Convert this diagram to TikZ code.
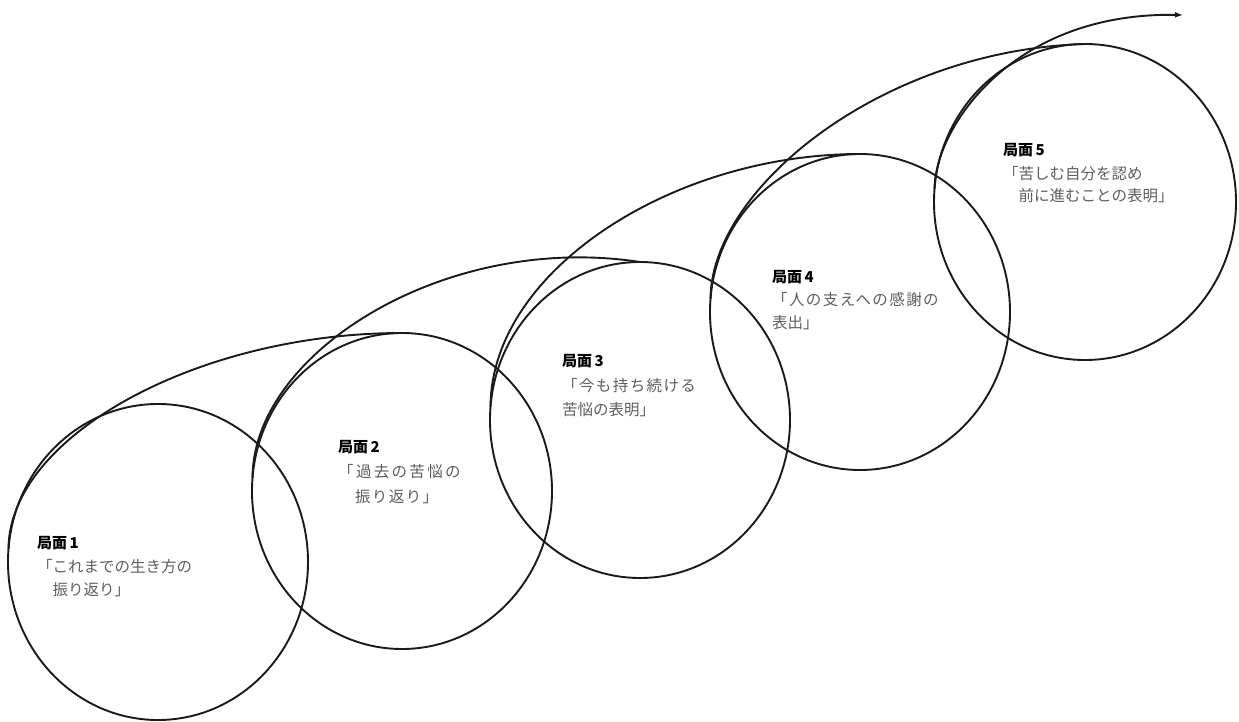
\documentclass[tikz,border=0pt]{standalone}
\usepackage{fontspec}
\newfontfamily\jp{Noto Sans CJK JP}
\newfontfamily\jpls[LetterSpace=15]{Noto Sans CJK JP}
\newfontfamily\jplm[LetterSpace=9]{Noto Sans CJK JP}
\usetikzlibrary{shapes.geometric,arrows.meta,calc}
\definecolor{ink}{HTML}{1A1A1A}
\definecolor{bodygray}{HTML}{5E5E5E}
\tikzset{
  loopshape/.style={draw=ink, line width=1.9pt, ellipse, inner sep=0pt, outer sep=0pt,
    minimum width=300pt, minimum height=316pt},
  coil/.style={draw=ink, line width=1.9pt},
  phasetitle/.style={anchor=west, inner sep=0pt, text=black,
    font=\jp\bfseries\fontsize{15}{17}\selectfont},
  phasebody/.style={anchor=west, inner sep=0pt, text=bodygray,
    font=\jp\fontsize{15.5}{18}\selectfont},
}
\begin{document}
\begin{tikzpicture}[x=1pt,y=-1pt]
\useasboundingbox (0,0) rectangle (1239,722);
% loops
\node[loopshape] (c1) at (158,562) {};
\node[loopshape] (c2) at (402,491) {};
\node[loopshape] (c3) at (640,420) {};
\node[loopshape] (c4) at (860,312) {};
\node[loopshape, minimum width=302pt] (c5) at (1085,202) {};
\coordinate (tip) at (1183,15);
% connecting coils
\draw[coil] (c1.175) .. controls ($(c1.175)+(0,-112)$) and ($(c2.north)+(-205,0)$) .. (c2.north);
\draw[coil] (c2.175) .. controls ($(c2.175)+(0,-125)$) and ($(c3.north)+(-195,-30)$) .. (c3.north);
\draw[coil] (c3.175) .. controls ($(c3.175)+(0,-135)$) and ($(c4.north)+(-189,0)$) .. (c4.north);
\draw[coil] (c4.175) .. controls ($(c4.175)+(0,-109)$) and ($(c5.north)+(-205,6)$) .. (c5.north);
\draw[coil, -{Latex[length=8pt,width=6pt]}] (c5.175) .. controls ($(c5.175)+(0,-59)$) and ($(tip)+(-173,-3)$) .. (tip);
% texts
\node[phasetitle] (t1) at (37,543) {局面\,1};
\node[phasebody] (t1a) at (37,567) {「これまでの生き方の};
\node[phasebody] (t1b) at (37,590) {　振り返り」};

\node[phasetitle] (t2) at (338,447) {局面\,2};
\node[phasebody, font=\jpls\fontsize{15.5}{18}\selectfont] (t2a) at (338,472) {「過去の苦悩の};
\node[phasebody, font=\jplm\fontsize{15.5}{18}\selectfont] (t2b) at (338,497) {　振り返り」};

\node[phasetitle] (t3) at (562,361) {局面\,3};
\node[phasebody, font=\jplm\fontsize{15.5}{18}\selectfont] (t3a) at (562,386) {「今も持ち続ける};
\node[phasebody] (t3b) at (562,410) {苦悩の表明」};

\node[phasetitle] (t4) at (772,277) {局面\,4};
\node[phasebody, font=\jplm\fontsize{15.5}{18}\selectfont] (t4a) at (772,300) {「人の支えへの感謝の};
\node[phasebody] (t4b) at (772,323) {表出」};

\node[phasetitle] (t5) at (1003,150) {局面\,5};
\node[phasebody] (t5a) at (1003,174) {「苦しむ自分を認め};
\node[phasebody] (t5b) at (1003,196) {　前に進むことの表明」};
\end{tikzpicture}
\end{document}
